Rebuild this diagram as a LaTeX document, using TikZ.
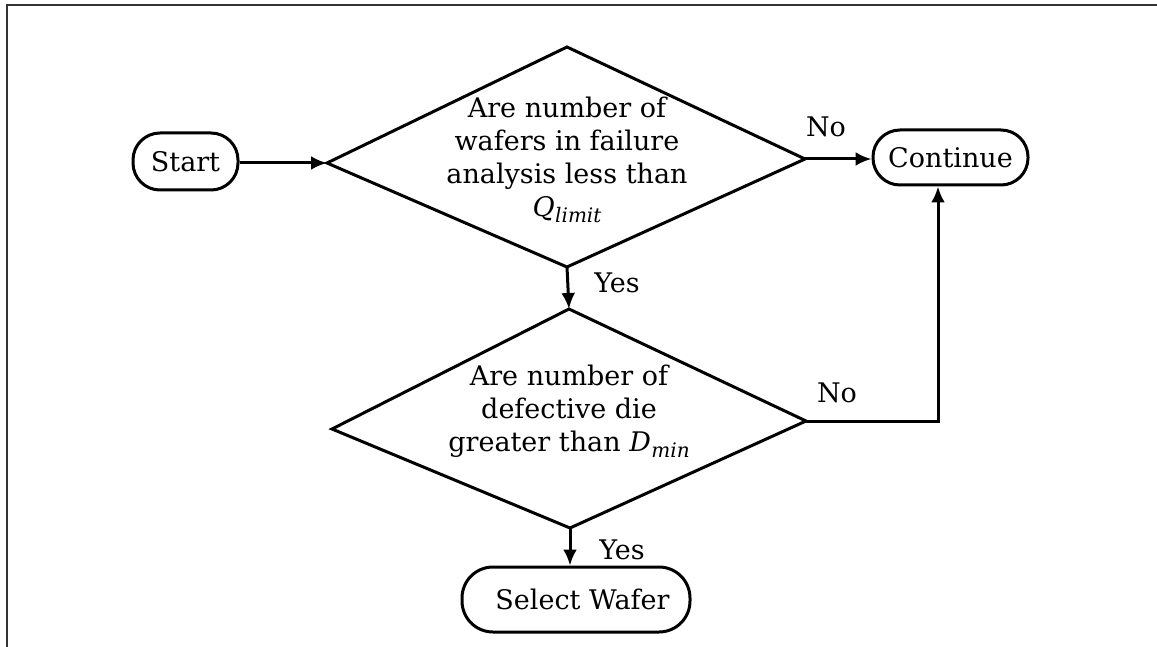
\documentclass[tikz,border=0pt]{standalone}
\usepackage{fontspec}
\setmainfont{DejaVu Serif}
\usetikzlibrary{arrows.meta,calc}

% italic symbol with a lowered italic subscript word
\newcommand{\symsub}[2]{\textit{#1}\kern0.5pt\raisebox{-6pt}{\fontsize{20}{20}\selectfont\itshape #2}}

\begin{document}
\begin{tikzpicture}[x=1pt,y=-1pt,
  every node/.style={font=\fontsize{27}{33}\selectfont},
  term/.style={draw,line width=3pt,rounded corners=27pt,inner sep=0pt},
  flow/.style={line width=3pt,line join=miter},
  arr/.style={flow,-{Latex[length=16pt,width=14pt]}},
  txt/.style={align=center,inner sep=0pt},
  frame/.style={line width=2.6pt,draw=black!80}]

\useasboundingbox (0,0) rectangle (1157,647);
\draw[frame] (7,647) -- (7,5) -- (1157,5);

% terminals
\node[term,minimum width=105pt,minimum height=57pt] (start) at (185.5,161.5) {Start};
\node[term,minimum width=155pt,minimum height=55pt] (cont) at (950.5,157.5) {Continue};
\node[term,minimum width=228pt,minimum height=65pt,rounded corners=31pt] (sel) at (576,599.5) {\hspace*{13pt}Select Wafer};

% first decision
\coordinate (d1t) at (567,47);
\coordinate (d1r) at (805,159);
\coordinate (d1b) at (567,267);
\coordinate (d1l) at (327,163);
\draw[flow] (d1t) -- (d1r) -- (d1b) -- (d1l) -- cycle;
\node[txt] (q1) at (567,160) {Are number of\\wafers in failure\\analysis less than\\\symsub{Q}{limit}};

% second decision
\coordinate (d2t) at (569,309);
\coordinate (d2r) at (806,421);
\coordinate (d2b) at (570,528);
\coordinate (d2l) at (332,429);
\draw[flow] (d2t) -- (d2r) -- (d2b) -- (d2l) -- cycle;
\node[txt] (q2) at (569,411) {Are number of\\defective die\\greater than \symsub{D}{min}};

% connectors
\draw[arr] (start.east |- d1l) -- (d1l);
\draw[arr] (d1r) -- (d1r -| cont.west);
\draw[arr] (d1b) -- (d2t);
\coordinate (bend) at (938,421);
\draw[arr] (d2r) -- (bend) -- (bend |- cont.south);
\draw[arr] (d2b) -- (d2b |- sel.north);

% branch labels
\node (no1) at (826,127) {No};
\node (yes1) at (617,283) {Yes};
\node (no2) at (837,393) {No};
\node (yes2) at (622,550) {Yes};
\end{tikzpicture}
\end{document}
